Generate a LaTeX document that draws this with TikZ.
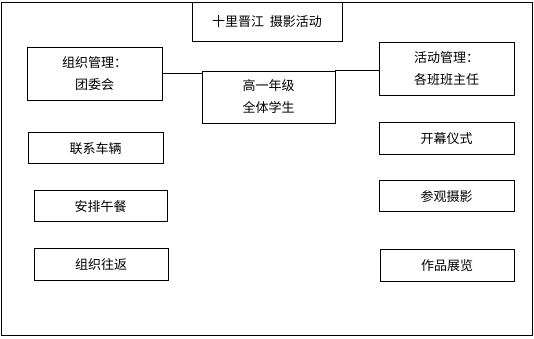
\documentclass[tikz,border=0pt]{standalone}
\usepackage{fontspec}
\newfontfamily\cjk{Noto Sans CJK SC}
\usetikzlibrary{positioning}

\begin{document}
\begin{tikzpicture}[
    x=1pt, y=-1pt,
    box/.style={draw, line width=0.8pt, minimum width=#1, inner sep=2pt, font=\cjk\fontsize{13}{22}\selectfont, align=center},
    box/.default=135pt,
    link/.style={line width=0.8pt}
]
\useasboundingbox (0,0) rectangle (534,338);
\draw[line width=0.8pt] (1,2) rectangle (532,335);

%% Title and central group
\node[box=150pt, minimum height=39pt] (title) at (267,21.5) {十里晋江\ \ 摄影活动};
\node[box=133pt, minimum height=52pt] (grade) at (268.5,97) {高一年级\\全体学生};

%% Organisation side
\node[box, minimum height=53pt] (org) at (94.5,73.5) {组织管理：\\团委会};
\node[box, minimum height=31pt, below=32pt of org, xshift=1pt] (car) {联系车辆};
\node[box=133pt, minimum height=31pt, below=26pt of car, xshift=5pt] (lunch) {安排午餐};
\node[box=134pt, minimum height=32pt, below=26pt of lunch, xshift=0.5pt] (trip) {组织往返};

%% Activity side
\node[box, minimum height=53pt] (act) at (446.5,68.5) {活动管理：\\各班班主任};
\node[box, minimum height=32pt, below=27pt of act] (open) {开幕仪式};
\node[box, minimum height=31pt, below=25pt of open] (visit) {参观摄影};
\node[box=134pt, minimum height=32pt, below=37pt of visit, xshift=0.5pt] (expo) {作品展览};

%% Connectors
\draw[link] (org.east) -- (org.east -| grade.west);
\draw[link] (grade.north east) -- (grade.north east -| act.west);

\end{tikzpicture}
\end{document}
